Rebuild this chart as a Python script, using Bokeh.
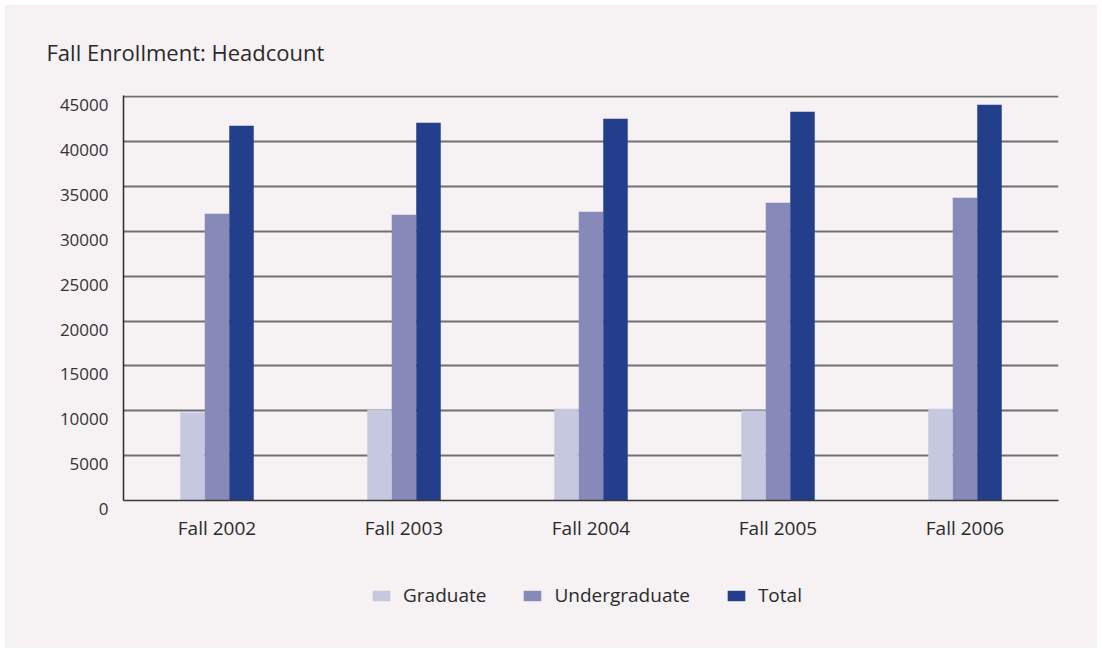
from bokeh.plotting import figure
from bokeh.layouts import column
from bokeh.models import ColumnDataSource, FactorRange, Range1d, FixedTicker, Legend, LegendItem
from bokeh.transform import dodge
from bokeh.embed import file_html
from bokeh.resources import INLINE

categories = ["Fall 2002", "Fall 2003", "Fall 2004", "Fall 2005", "Fall 2006"]
graduate = [9800, 10130, 10240, 10020, 10240]
undergraduate = [31970, 31860, 32190, 33190, 33750]
total = [41770, 42100, 42550, 43330, 44110]
y_ticks = [0, 5000, 10000, 15000, 20000, 25000, 30000, 35000, 40000, 45000]
series_names = ["Graduate", "Undergraduate", "Total"]
colors = ["#c6c8df", "#8789b8", "#233e8b"]

BG = "#f6f1f3"
FONT = "Open Sans"

src = ColumnDataSource(dict(cat=categories, g=graduate, u=undergraduate, t=total))
keys = ["g", "u", "t"]
w = 0.131
offsets = [-w, 0, w]

p = figure(
    x_range=FactorRange(*categories),
    y_range=Range1d(0, 45150),
    width=1092, height=560,
    output_backend="svg", toolbar_location=None,
    min_border_left=118, min_border_right=39, min_border_top=90, min_border_bottom=65,
    background_fill_color=BG, border_fill_color=BG, outline_line_color=None,
)

p.title.text = "Fall Enrollment: Headcount"
p.title.text_font = FONT
p.title.text_font_size = "22px"
p.title.text_font_style = "normal"
p.title.text_color = "#2a2a2a"
p.title.align = "left"
p.title.offset = -77
p.title.standoff = 58

for k, off, c in zip(keys, offsets, colors):
    p.vbar(x=dodge("cat", off, range=p.x_range), top=k, width=w, source=src,
           fill_color=c, line_color=None)

p.yaxis.ticker = FixedTicker(ticks=y_ticks)
p.yaxis.major_label_overrides = {t: "\n" + str(t) for t in y_ticks}
p.yaxis.major_label_text_line_height = 0.7
p.yaxis.major_tick_line_color = None
p.yaxis.minor_tick_line_color = None
p.yaxis.axis_line_color = "#2a2a2a"
p.yaxis.axis_line_width = 1.5
p.yaxis.major_label_text_font = FONT
p.yaxis.major_label_text_font_size = "17px"
p.yaxis.major_label_text_color = "#333333"
p.yaxis.major_label_standoff = 9

p.xaxis.major_tick_line_color = None
p.xaxis.minor_tick_line_color = None
p.xaxis.axis_line_color = "#3a3a3a"
p.xaxis.axis_line_width = 1.5
p.xaxis.major_label_text_font = FONT
p.xaxis.major_label_text_font_size = "19px"
p.xaxis.major_label_text_color = "#2a2a2a"
p.xaxis.major_label_standoff = 8

p.xgrid.grid_line_color = None
p.ygrid.ticker = FixedTicker(ticks=y_ticks)
p.ygrid.grid_line_color = "#707070"
p.ygrid.grid_line_width = 2

# Legend strip below the chart (renderers hidden, only their legend swatches show)
p2 = figure(
    x_range=FactorRange(*categories),
    y_range=Range1d(0, 45150),
    width=1092, height=83,
    output_backend="svg", toolbar_location=None,
    x_axis_location=None, y_axis_location=None,
    min_border_left=0, min_border_right=0, min_border_top=0, min_border_bottom=0,
    background_fill_color=None, border_fill_color=BG, outline_line_color=None,
)
p2.grid.grid_line_color = None
items = []
for k, off, c, name in zip(keys, offsets, colors, series_names):
    r = p2.vbar(x=dodge("cat", off, range=p2.x_range), top=k, width=w, source=src,
                fill_color=c, line_color=None, visible=False)
    items.append(LegendItem(label=name, renderers=[r]))

legend = Legend(
    items=items,
    orientation="horizontal", location=(247, 40),
    background_fill_alpha=0, border_line_color=None,
    inactive_fill_alpha=0,
    glyph_width=22, glyph_height=13, label_standoff=11, spacing=35,
    padding=0, margin=0,
    label_text_font=FONT, label_text_font_size="19px", label_text_color="#2a2a2a",
)
p2.add_layout(legend, "center")

layout = column(p, p2, spacing=0)
layout.styles = {"margin": "5px", "background-color": BG}

open("out.html", "w").write(file_html(layout, INLINE))
